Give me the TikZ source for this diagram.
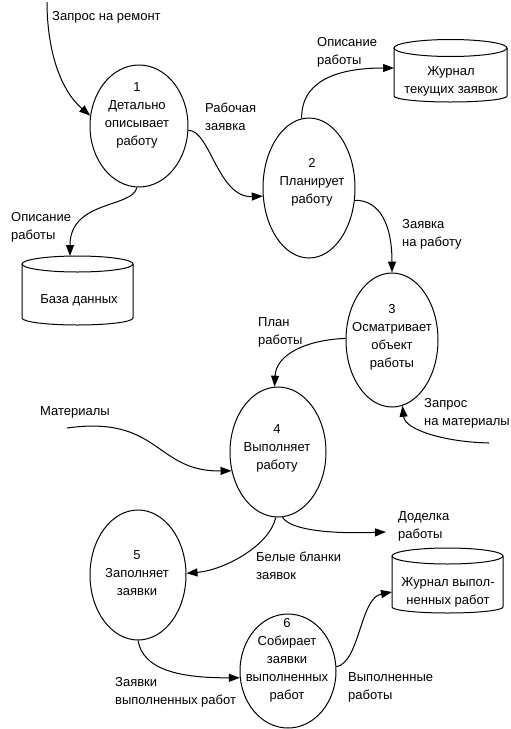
\documentclass[tikz,border=0pt]{standalone}
\usepackage{fontspec}
\setmainfont{Liberation Sans}
\usetikzlibrary{shapes.geometric,arrows.meta}
\begin{document}
\begin{tikzpicture}[x=1pt,y=-1pt,
  proc/.style={ellipse,draw,line width=1pt,inner sep=0pt},
  ptext/.style={align=center,inner sep=0pt,font=\fontsize{13}{18}\selectfont},
  lbl/.style={align=left,anchor=west,inner sep=0pt,font=\fontsize{13}{18}\selectfont},
  flow/.style={draw,line width=1pt,-{Triangle[length=11pt,width=8pt]}},
  cyl/.style={draw,line width=1pt}]
\useasboundingbox (0,0) rectangle (511,729);

% processes
\node[proc,minimum width=98pt,minimum height=122pt] (e1) at (139,126) {};
\node[proc,minimum width=92pt,minimum height=140pt] (e2) at (309,188) {};
\node[proc,minimum width=92pt,minimum height=134pt] (e3) at (392,340) {};
\node[proc,minimum width=96pt,minimum height=130pt] (e4) at (278,452) {};
\node[proc,minimum width=96pt,minimum height=130pt] (e5) at (138,575) {};
\node[proc,minimum width=96pt,minimum height=114pt] (e6) at (288,671) {};

\node[ptext] (t1) at (137,115) {1\\Детально\\описывает\\работу};
\node[ptext] (t2) at (312,182) {2\\Планирует\\работу};
\node[ptext] (t3) at (392,337) {3\\Осматривает\\объект\\работы};
\node[ptext] (t4) at (277,448) {4\\Выполняет\\работу};
\node[ptext] (t5) at (137,573) {5\\Заполняет\\заявки};
\node[ptext] (t6) at (287,660) {6\\Собирает\\заявки\\выполненных\\работ};

% stores
\draw[cyl] (394,48) -- (394,96) arc[start angle=180,end angle=360,x radius=56.5pt,y radius=6pt] -- (507,48);
\draw[cyl] (450.5,48) ellipse[x radius=56.5pt,y radius=8.5pt];
\node[ptext] (jt) at (451,81) {Журнал\\текущих заявок};

\draw[cyl] (22,264) -- (22,318) arc[start angle=180,end angle=360,x radius=55.5pt,y radius=7pt] -- (133,264);
\draw[cyl] (77.5,264) ellipse[x radius=55.5pt,y radius=8pt];
\node[ptext] (db) at (79,300) {База данных};

\draw[cyl] (392,556) -- (392,607) arc[start angle=180,end angle=360,x radius=55.5pt,y radius=6pt] -- (503,556);
\draw[cyl] (447.5,556) ellipse[x radius=55.5pt,y radius=8pt];
\node[ptext] (jv) at (448,592) {Журнал выпол-\\ненных работ};

\coordinate (jt-in) at (394,68);
\coordinate (db-in) at (70,256);
\coordinate (jv-in) at (392,592);
\coordinate (src-rem) at (47,2);
\coordinate (src-mat) at (67,428);
\coordinate (src-zm) at (489,443);
\coordinate (dst-dod) at (386,532);

% labels
\node[lbl] (l-rem) at (52,17) {Запрос на ремонт};
\node[lbl] (l-rz) at (205,117) {Рабочая\\заявка};
\node[lbl] (l-op1) at (317,52) {Описание\\работы};
\node[lbl] (l-op2) at (11,227) {Описание\\работы};
\node[lbl] (l-zr) at (402,234) {Заявка\\на работу};
\node[lbl] (l-pl) at (258,332) {План\\работы};
\node[lbl] (l-zm) at (424,413) {Запрос\\на материалы};
\node[lbl] (l-mat) at (40,412) {Материалы};
\node[lbl] (l-dod) at (398,526) {Доделка\\работы};
\node[lbl] (l-bb) at (256,566) {Белые бланки\\заявок};
\node[lbl] (l-zv) at (115,692) {Заявки\\выполненных работ};
\node[lbl] (l-vr) at (348,687) {Выполненные\\работы};

% flows
\draw[flow] (src-rem) .. controls (47,45) and (58,88) .. (e1.168);
\draw[flow] (e1.-5) .. controls (210,130) and (218,198) .. (e2.190);
\draw[flow] (e1.-92) .. controls (133,208) and (70,200) .. (db-in);
\draw[flow] (e2.96) .. controls (301,85) and (330,68) .. (jt-in);
\draw[flow] (e2.-15) .. controls (380,200) and (392,225) .. (e3.north);
\draw[flow] (e3.178) .. controls (305,340) and (276,355) .. (e4.93);
\draw[flow] (src-zm) .. controls (445,442) and (405,430) .. (e3.-81);
\draw[flow] (src-mat) .. controls (160,415) and (155,472) .. (e4.202);
\draw[flow] (e4.-86) .. controls (290,530) and (330,534) .. (dst-dod);
\draw[flow] (e4.-92) .. controls (270,545) and (225,570) .. (e5.2);
\draw[flow] (e5.-90) .. controls (143,670) and (180,678) .. (e6.188);
\draw[flow] (e6.5) .. controls (360,662) and (360,598) .. (jv-in);
\end{tikzpicture}
\end{document}
